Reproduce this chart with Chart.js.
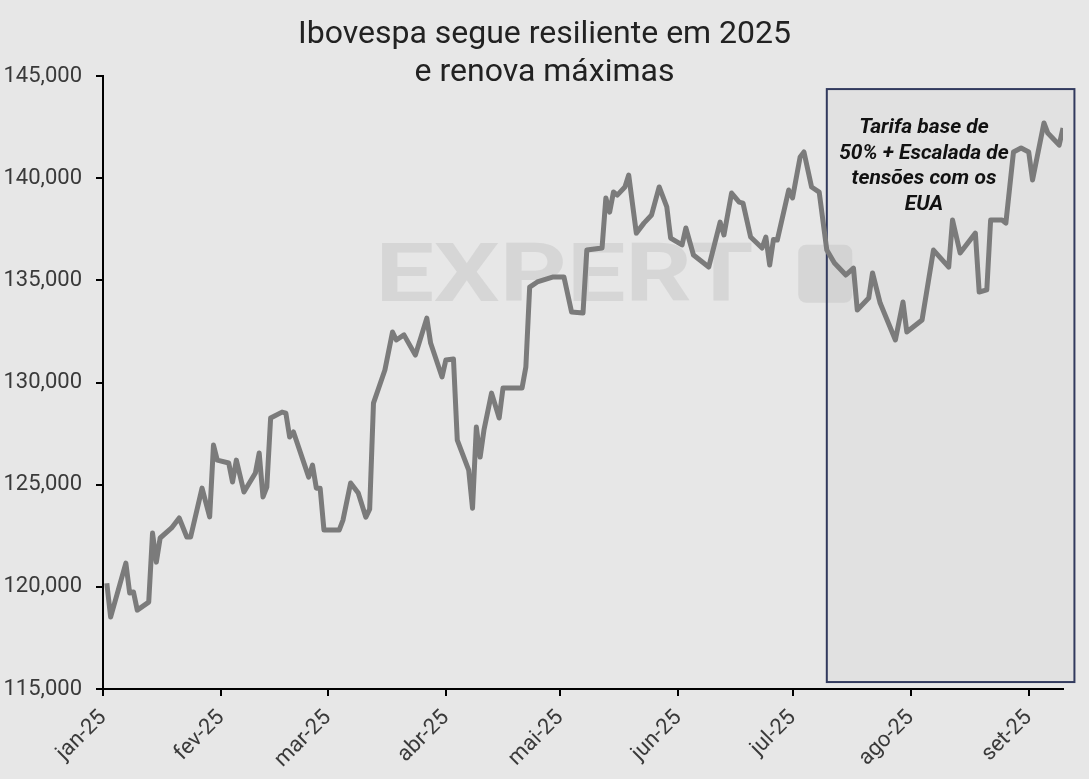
<!DOCTYPE html>
<html>
<head>
<meta charset="utf-8">
<script src="https://cdn.jsdelivr.net/npm/chart.js@4.4.1/dist/chart.umd.min.js"></script>
<style>
  html, body { margin: 0; padding: 0; background: #e7e7e7; }
  #wrap { width: 1089px; height: 779px; }
</style>
</head>
<body>
<div id="wrap"><canvas id="c" width="1089" height="779"></canvas></div>
<script>
// ---- Data (day index counted from 1 Jan 2025) ----
const titleLines = ['Ibovespa segue resiliente em 2025', 'e renova máximas'];
const monthStartDays = [0, 31, 59, 90, 120, 151, 181, 212, 243];
const monthLabels = ['jan-25', 'fev-25', 'mar-25', 'abr-25', 'mai-25', 'jun-25', 'jul-25', 'ago-25', 'set-25'];
const yTickValues = [115000, 120000, 125000, 130000, 135000, 140000, 145000];

const tradingDays = [
  1,2,4,6,7,8,9,12,13,14,
  15,18,20,22,23,26,28,29,30,33,
  34,35,37,40,41,42,43,44,47,48,
  49,50,54,55,56,57,58,62,63,65,
  67,69,70,71,74,76,77,79,82,85,
  86,89,90,92,93,96,97,98,99,100,
  102,104,105,110,111,112,114,118,121,123,
  126,127,131,132,133,134,135,137,138,140,
  142,144,146,148,149,152,153,155,159,162,
  163,165,167,168,170,173,174,175,176,177,
  180,181,183,184,186,188,190,192,195,197,
  198,201,202,204,208,210,211,215,218,222,
  223,225,229,230,232,233,236,237,239,241,
  243,244,247,248,251,252
];
const iboValues = [
  120180,118520,119840,121160,119700,119750,118860,119250,122630,121210,
  122390,122880,123370,122440,122440,124830,123420,126940,126200,126060,
  125130,126200,124640,125570,126550,124400,124880,128260,128550,128500,
  127330,127580,125370,125960,124830,124830,122780,122780,123270,125080,
  124590,123410,123800,128990,130610,132470,132080,132330,131340,133150,
  131930,130270,131100,131150,127180,125710,123850,127820,126350,127670,
  129480,128260,129730,129730,130760,134670,134920,135160,135160,133450,
  133400,136480,136580,139030,138340,139320,139170,139570,140150,137310,
  137800,138200,139570,138590,137070,136730,137560,136240,135650,137850,
  137220,139270,138830,138780,137120,136580,137120,135750,137000,136970,
  139420,139030,141040,141280,139570,139320,136480,135850,135260,135600,
  133550,134130,135360,133890,132080,133940,132470,133060,136480,135650,
  137950,136340,137310,134430,134530,137950,137950,137800,141280,141480,
  141280,139910,142700,142210,141620,142450
];

// Annotation
const boxLabelLines = ['Tarifa base de', '50% + Escalada de', 'tensões com os', 'EUA'];
const boxRange = { fromDay: 190, toDay: 255, low: 115340, high: 144360 };
const watermarkText = 'EXPERT';

// ---- Plugins ----
const bgPlugin = {
  id: 'bg',
  beforeDraw(chart) {
    const ctx = chart.ctx;
    ctx.save();
    ctx.fillStyle = '#e7e7e7';
    ctx.fillRect(0, 0, chart.width, chart.height);
    ctx.restore();
  }
};

// centre the title on the whole canvas, not on the padded layout area
const titleCenterPlugin = {
  id: 'titleCenter',
  afterLayout(chart) {
    if (chart.titleBlock) {
      chart.titleBlock.left = 0;
      chart.titleBlock.right = chart.width;
    }
  }
};

const boxPlugin = {
  id: 'boxAnno',
  beforeDatasetsDraw(chart) {
    const { ctx, scales: { x, y } } = chart;
    const x0 = x.getPixelForValue(boxRange.fromDay);
    const x1 = x.getPixelForValue(boxRange.toDay);
    const y0 = y.getPixelForValue(boxRange.high);
    const y1 = y.getPixelForValue(boxRange.low);
    ctx.save();
    ctx.fillStyle = '#e1e1e1';
    ctx.fillRect(x0, y0, x1 - x0, y1 - y0);

    // watermark
    ctx.fillStyle = 'rgba(200,200,200,0.55)';
    ctx.font = 'bold 82px Roboto';
    ctx.textBaseline = 'alphabetic';
    const w = ctx.measureText(watermarkText).width;
    const wx = x.getPixelForValue(71.5), wy = y.getPixelForValue(134000);
    const targetW = 378;
    ctx.save();
    ctx.translate(wx, wy);
    ctx.scale(targetW / w, 1);
    ctx.fillText(watermarkText, 0, 0);
    ctx.restore();
    const lx = x.getPixelForValue(182.5);
    ctx.beginPath();
    ctx.roundRect(lx, wy - 56, 54, 58, 8);
    ctx.fill();

    ctx.strokeStyle = '#323a5e';
    ctx.lineWidth = 2;
    ctx.strokeRect(x0, y0, x1 - x0, y1 - y0);
    ctx.restore();
  },
  afterDatasetsDraw(chart) {
    const { ctx, scales: { x, y } } = chart;
    const cx = x.getPixelForValue(215.5);
    const cy = y.getPixelForValue(142450);
    ctx.save();
    ctx.fillStyle = '#111111';
    ctx.font = 'italic bold 21px Roboto';
    ctx.textAlign = 'center';
    ctx.textBaseline = 'middle';
    boxLabelLines.forEach((t, i) => ctx.fillText(t, cx, cy + i * 25.5));
    ctx.restore();
  }
};

const tickFont = { family: 'Roboto', size: 22, weight: 'normal' };

new Chart(document.getElementById('c'), {
  type: 'line',
  data: {
    datasets: [{
      label: 'Ibovespa',
      data: tradingDays.map((d, i) => ({ x: d, y: iboValues[i] })),
      borderColor: '#7b7b7b',
      borderWidth: 5,
      pointRadius: 0,
      tension: 0,
      borderJoinStyle: 'round',
      fill: false
    }]
  },
  options: {
    responsive: false,
    animation: false,
    devicePixelRatio: 1,
    layout: { padding: { left: 0, right: 26, top: 0, bottom: 0 } },
    plugins: {
      legend: { display: false },
      tooltip: { enabled: false },
      title: {
        display: true,
        text: titleLines,
        color: '#222222',
        font: { family: 'Roboto', size: 32, weight: 'normal', lineHeight: 38 / 32 },
        padding: { top: 16, bottom: -16 }
      }
    },
    scales: {
      x: {
        type: 'linear',
        min: 0,
        max: 252,
        afterBuildTicks(axis) { axis.ticks = monthStartDays.map(v => ({ value: v })); },
        afterFit(s) { s.height = 90; },
        ticks: {
          autoSkip: false,
          maxRotation: 45,
          minRotation: 45,
          padding: 9,
          color: '#3a3a3a',
          font: tickFont,
          callback: (v) => monthLabels[monthStartDays.indexOf(v)]
        },
        grid: { drawOnChartArea: false, drawTicks: true, tickLength: 7, color: '#000', lineWidth: 2 },
        border: { display: true, color: '#000', width: 2 }
      },
      y: {
        min: 115000,
        max: 145000,
        afterBuildTicks(axis) { axis.ticks = yTickValues.map(v => ({ value: v })); },
        afterFit(s) { s.width = 103; },
        ticks: {
          padding: 14,
          color: '#3a3a3a',
          font: tickFont,
          callback: (v) => v.toLocaleString('en-US')
        },
        grid: { drawOnChartArea: false, drawTicks: true, tickLength: 7, color: '#000', lineWidth: 2 },
        border: { display: true, color: '#000', width: 2 }
      }
    }
  },
  plugins: [bgPlugin, titleCenterPlugin, boxPlugin]
});
</script>
</body>
</html>
